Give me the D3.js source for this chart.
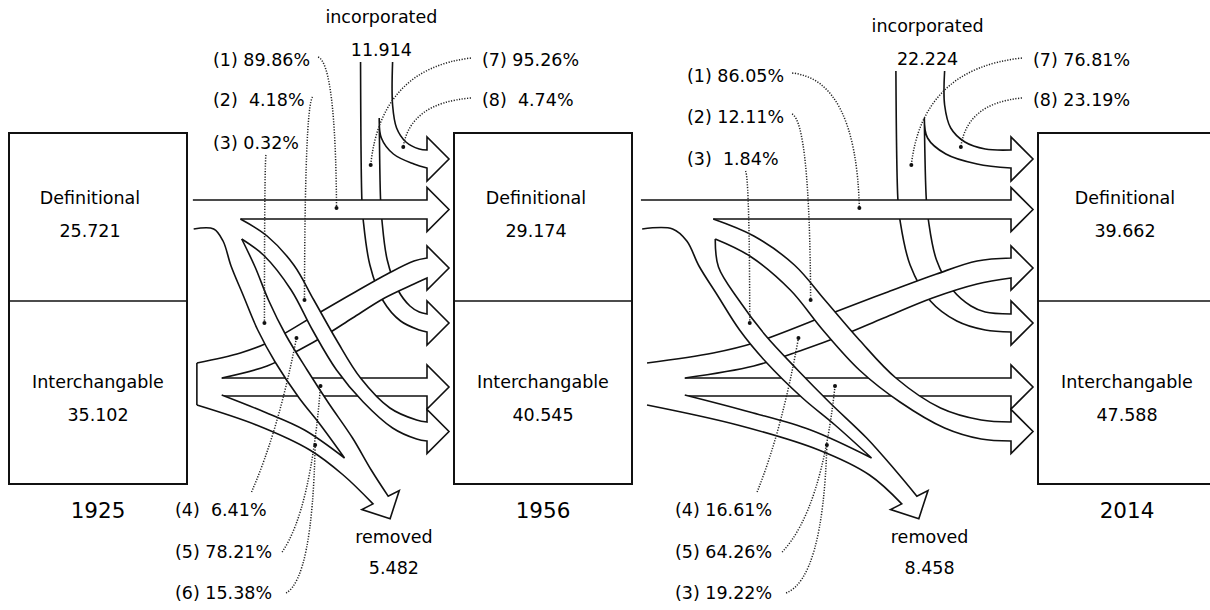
<!DOCTYPE html>
<html>
<head>
<meta charset="utf-8">
<title>Definitional and interchangable terms, 1925-2014</title>
<script src="https://cdn.jsdelivr.net/npm/d3@7"></script>
<style>
  body { margin: 0; background: #fff; }
  svg text { font-family: "DejaVu Sans", Verdana, sans-serif; font-size: 17.5px; fill: #000; white-space: pre; }
  svg text.year { font-size: 21.5px; }
  .box { fill: #fff; stroke: #111; stroke-width: 2; }
  .divider { stroke: #111; stroke-width: 1.6; }
  .flow-fill { fill: #fff; stroke: none; }
  .flow-line { fill: none; stroke: #111; stroke-width: 1.6; }
  .leader { fill: none; stroke: #222; stroke-width: 1.5; stroke-dasharray: 1.2 1.5; }
</style>
</head>
<body>
<svg id="chart" width="1210" height="610"></svg>
<script>
// ---- data ----
const years = ['1925', '1956', '2014'];
const categories = ['Definitional', 'Interchangable'];
const definitional = [25.721, 29.174, 39.662];
const interchangable = [35.102, 40.545, 47.588];
const incorporated = [11.914, 22.224];
const removed = [5.482, 8.458];
// flow shares per period: (1)..(8)
const flowCodes = [
  ['(1)', '(2)', '(3)', '(4)', '(5)', '(6)', '(7)', '(8)'],
  ['(1)', '(2)', '(3)', '(4)', '(5)', '(3)', '(7)', '(8)']
];
const shares = [
  [89.86, 4.18, 0.32, 6.41, 78.21, 15.38, 95.26, 4.74],
  [86.05, 12.11, 1.84, 16.61, 64.26, 19.22, 76.81, 23.19]
];

// ---- layout ----
const svg = d3.select('#chart');
const boxW = 178, boxBottom = 484, headLen = 22, headHalf = 22;
const xBox = d3.scaleOrdinal().domain(years).range([9, 454, 1038]);
const yBox = d3.scaleOrdinal().domain(categories).range([133, 301]);
const defLabelShift = [-8, -7, -2];

// per transition: label anchors (px), shift of the removal branch (u)
const panelLayout = [
  { incTop: 62, topX: 213, topY: [60, 100, 143], botX: 175, rightX: 482, tail: true, rmShift: .02 },
  { incTop: 71, topX: 687, topY: [76, 117, 159], botX: 675, rightX: 1033, tail: false, rmShift: -.022 }
];
const botY = [510, 552, 593], rightY = [60, 100];

// flow outlines in (u across the gap, y) ; u 0 = left box edge, 1 = right box edge
const shapes = {
  keepDef: { a: [[.022, 200]], aEnd: 200, b: [[.2, 219]], bEnd: 219 },
  keepInt: { a: [[.13, 378]], aEnd: 378, b: [[.13, 396]], bEnd: 396 },
  toDef: {
    a: [[.037, 363], [.2, 353], [.3, 343], [.5, 312], [.63, 292], [.75, 274], [.85, 261]], aEnd: 258,
    b: [[.13, 378], [.3, 366], [.42, 350], [.52, 335], [.62, 318], [.74, 298], [.85, 284]], bEnd: 278
  },
  toInt: {
    a: [[.2, 219], [.3, 236], [.4, 265], [.475, 300], [.56, 340], [.65, 378], [.76, 408], [.86, 420]], aEnd: 422,
    b: [[.205, 239], [.29, 256], [.39, 290], [.47, 330], [.56, 370], [.66, 402], [.77, 428], [.86, 439]], bEnd: 441
  }
};
const removal = {
  A: [[.025, 229], [.10, 229], [.135, 241], [.165, 266], [.21, 295], [.265, 330], [.33, 362], [.42, 398], [.50, 425], [.59, 458]],
  D: [[.205, 239], [.235, 267], [.285, 300], [.35, 335], [.43, 370], [.51, 403], [.6, 438], [.67, 470]],
  top: [[.13, 395], [.29, 412], [.44, 430], [.59, 458]],
  bottom: [[.037, 405], [.26, 425], [.46, 450], [.585, 475]],
  head: [.705, 500], angle: 63
};
const intake = {
  outer: [[.655, 200], [.66, 220], [.685, 265], [.735, 301], [.80, 321], [.87, 330]], outerX: .65, outerEnd: 332,
  inner: [[.72, 118], [.725, 200], [.73, 220], [.75, 260], [.79, 290], [.835, 306], [.87, 312]], innerEnd: 314,
  branchIn: [[.72, 118], [.728, 138], [.773, 154], [.85, 164]], branchInEnd: 168,
  branchOut: [[.77, 105], [.785, 128], [.82, 142], [.87, 149]], branchOutX: .77, branchOutEnd: 150
};
// dots of the leader lines, (u, y), in flow order (1)..(8)
const dots = [[.56, 208], [.44, 300], [.29, 323], [.41, 338], [.5, 386], [.48, 445], [.688, 165], [.81, 147]];
const leaderStart = [['r', 8, -3], ['r', 8, -3], ['r', -33, 12], ['r', -15, -18], ['r', 10, 0], ['r', 14, 0], ['l', -11, -2], ['l', -11, -2]];
const bend = [.95, .95, .95, .6, .75, .9, .9, .9];

const line = d3.line().curve(d3.curveCatmullRom.alpha(0.5));
const seg = pts => line(pts).slice(1);
const straight = pts => pts.map(p => 'L' + p[0] + ',' + p[1]).join('');
const rev = pts => pts.slice().reverse();
const fmt = d3.format('.3f');
const fmtShare = (code, v) => code + (v >= 1 && v < 10 ? '  ' : ' ') + v.toFixed(2) + '%';

function drawShape(g, fillD, strokeD) {
  g.append('path').attr('class', 'flow-fill').attr('d', fillD);
  g.append('path').attr('class', 'flow-line').attr('d', strokeD);
}

function headRight(P, yc, down) {
  const h = [[P.base, yc - headHalf], [P.tip, yc], [P.base, yc + headHalf]];
  return down ? h : rev(h);
}

function drawArrow(g, P, s) {
  const a = s.a.map(p => [P.u(p[0]), p[1]]).concat([[P.base, s.aEnd]]);
  const b = s.b.map(p => [P.u(p[0]), p[1]]).concat([[P.base, s.bEnd]]);
  const d = 'M' + seg(a) + straight(headRight(P, (s.aEnd + s.bEnd) / 2, true)) + 'L' + seg(rev(b));
  drawShape(g, d + 'Z', d);
}

function drawIntake(g, P, top) {
  const m = p => [P.u(p[0]), p[1]];
  const outer = [[P.u(intake.outerX), top]].concat(intake.outer.map(m), [[P.base, intake.outerEnd]]);
  const inner = intake.inner.map(m).concat([[P.base, intake.innerEnd]]);
  const bIn = intake.branchIn.map(m).concat([[P.base, intake.branchInEnd]]);
  const bOut = [[P.u(intake.branchOutX), top]].concat(intake.branchOut.map(m), [[P.base, intake.branchOutEnd]]);
  const d = 'M' + seg(outer) +
    straight(headRight(P, (intake.innerEnd + intake.outerEnd) / 2, false)) +
    'L' + seg(rev(inner)) + 'L' + seg(bIn) +
    straight(headRight(P, (intake.branchInEnd + intake.branchOutEnd) / 2, false)) +
    'L' + seg(rev(bOut));
  drawShape(g, d + 'Z', d);
}

function drawRemoval(g, P, shift) {
  const m = p => [P.u(p[0]), p[1]];
  const ms = (p, i) => [P.u(p[0] + (i ? shift : 0)), p[1]];
  const mid = [P.u(removal.head[0] + shift), removal.head[1]];
  const ang = removal.angle * Math.PI / 180;
  const dir = [Math.cos(ang), Math.sin(ang)], perp = [dir[1], -dir[0]];
  const at = (k, l) => [mid[0] + k * perp[0] + (l || 0) * dir[0], mid[1] + k * perp[1] + (l || 0) * dir[1]];
  const D = removal.D.map(ms).concat([at(8.5)]);
  const bottom = removal.bottom.map(m).concat([at(-8.5)]);
  const head = [at(headHalf - 1), at(0, headLen - 1), at(1 - headHalf)];
  const A = removal.A.map(m), top = removal.top.map(m);
  const outerD = 'M' + seg(D) + straight(head) + 'L' + seg(rev(bottom));
  const inner = seg(top) + 'L' + seg(rev(A));
  drawShape(g, outerD + 'L' + inner + 'Z', outerD + 'M' + inner);
}

// ---- boxes ----
years.forEach((yr, i) => {
  const g = svg.append('g');
  const x0 = xBox(yr), cx = x0 + boxW / 2;
  g.append('rect').attr('class', 'box')
    .attr('x', x0).attr('y', yBox(categories[0]))
    .attr('width', boxW).attr('height', boxBottom - yBox(categories[0]));
  g.append('line').attr('class', 'divider')
    .attr('x1', x0).attr('x2', x0 + boxW)
    .attr('y1', yBox(categories[1])).attr('y2', yBox(categories[1]));
  const rows = [
    [categories[0], definitional[i], yBox(categories[0]) + 65, defLabelShift[i]],
    [categories[1], interchangable[i], yBox(categories[1]) + 81, 0]
  ];
  rows.forEach(([name, v, y, dx]) => {
    g.append('text').attr('x', cx + dx).attr('y', y).attr('dy', '0.36em')
      .attr('text-anchor', 'middle').text(name);
    g.append('text').attr('x', cx + dx).attr('y', y + 33).attr('dy', '0.36em')
      .attr('text-anchor', 'middle').text(fmt(v));
  });
  g.append('text').attr('class', 'year').attr('x', cx).attr('y', 510).attr('dy', '0.36em')
    .attr('text-anchor', 'middle').text(yr);
});

// ---- flows between periods ----
years.slice(0, -1).forEach((yr, i) => {
  const L = panelLayout[i];
  const x0 = xBox(yr) + boxW, x1 = xBox(years[i + 1]);
  const P = { u: d3.scaleLinear().domain([0, 1]).range([x0, x1]), tip: x1 - 5 };
  P.base = P.tip - headLen;
  const g = svg.append('g');

  drawIntake(g, P, L.incTop);
  drawArrow(g, P, shapes.keepDef);
  drawArrow(g, P, shapes.keepInt);
  drawArrow(g, P, shapes.toDef);
  drawRemoval(g, P, L.rmShift);
  drawArrow(g, P, shapes.toInt);
  if (L.tail) {
    g.append('path').attr('class', 'flow-line')
      .attr('d', `M${P.u(shapes.toDef.a[0][0])},${shapes.toDef.a[0][1]}V${removal.bottom[0][1]}`);
  }

  // incorporated / removed labels
  const xi = P.u(.728);
  g.append('text').attr('x', xi).attr('y', L.incTop - 45).attr('dy', '0.36em').attr('text-anchor', 'middle').text('incorporated');
  g.append('text').attr('x', xi).attr('y', L.incTop - 12).attr('dy', '0.36em').attr('text-anchor', 'middle').text(fmt(incorporated[i]));
  const xr = P.u(.755 + L.rmShift);
  g.append('text').attr('x', xr).attr('y', 537).attr('dy', '0.36em').attr('text-anchor', 'middle').text('removed');
  g.append('text').attr('x', xr).attr('y', 568).attr('dy', '0.36em').attr('text-anchor', 'middle').text(fmt(removed[i]));

  // share labels with dotted leaders
  shares[i].forEach((v, k) => {
    let lx, ly;
    if (k < 3) { lx = L.topX; ly = L.topY[k]; }
    else if (k < 6) { lx = L.botX; ly = botY[k - 3]; }
    else { lx = L.rightX; ly = rightY[k - 6]; }
    const t = g.append('text').attr('x', lx).attr('y', ly).attr('dy', '0.36em').text(fmtShare(flowCodes[i][k], v));
    const bb = t.node().getBBox();
    const st = leaderStart[k];
    const s = [(st[0] === 'r' ? bb.x + bb.width : bb.x) + st[1], ly + st[2]];
    const e = [P.u(dots[k][0]), dots[k][1]];
    const c = [s[0] + bend[k] * (e[0] - s[0]), s[1] + (1 - bend[k]) * (e[1] - s[1])];
    g.append('path').attr('class', 'leader').attr('d', `M${s}Q${c} ${e}`);
    g.append('circle').attr('cx', e[0]).attr('cy', e[1]).attr('r', 2).attr('fill', '#111');
  });
});
</script>
</body>
</html>
